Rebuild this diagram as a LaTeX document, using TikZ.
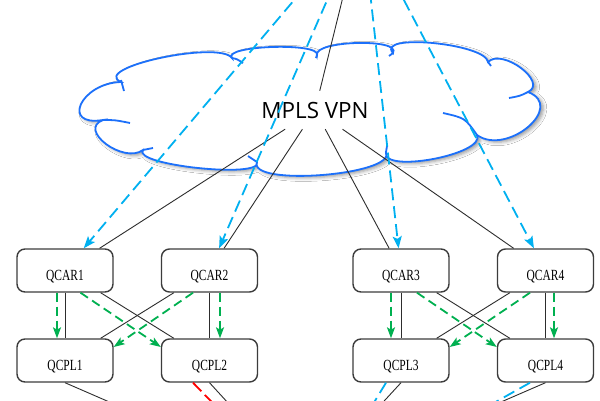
\documentclass[tikz,border=0pt]{standalone}
\usepackage{fontspec}
\newfontfamily\labfont[FakeStretch=0.74]{Liberation Serif}
\newfontfamily\mplsfont{Open Sans}
\usetikzlibrary{arrows.meta,calc,shadows.blur}
\definecolor{cloudblue}{RGB}{28,112,250}
\definecolor{dashblue}{RGB}{0,176,240}
\definecolor{dgreen}{RGB}{0,176,80}
\definecolor{dred}{RGB}{255,0,0}
\definecolor{boxgray}{RGB}{60,60,60}
\definecolor{linegray}{RGB}{45,45,45}
\begin{document}
\begin{tikzpicture}[x=1pt,y=-1pt,
  box/.style={draw=boxgray, line width=1.4, rounded corners=8, fill=white,
    minimum width=96, minimum height=43, inner sep=0, text height=19pt, text depth=0pt,
    font=\labfont\fontsize{15.5}{18}\selectfont},
  blk/.style={draw=linegray, line width=0.9},
  bluedash/.style={draw=dashblue, line width=1.8, dash pattern=on 12pt off 6pt,
    -{Stealth[length=12pt,width=9pt,inset=2.5pt]}},
  greendash/.style={draw=dgreen, line width=1.8, dash pattern=on 9pt off 5pt,
    -{Stealth[length=11pt,width=8pt,inset=2.5pt]}},
  bluebot/.style={draw=dashblue, line width=1.8, dash pattern=on 12pt off 6pt},
  redbot/.style={draw=dred, line width=1.8, dash pattern=on 12pt off 5pt},
  curl/.style={draw=cloudblue, line width=1.8}]
\useasboundingbox (0,0) rectangle (600,400);
\clip (0,0) rectangle (600,400);
\fill[white] (0,0) rectangle (600,400);
% cloud
\path[draw=cloudblue, line width=1.8, fill=white,
  blur shadow={shadow xshift=3pt, shadow yshift=-2pt, shadow blur radius=3.5pt, shadow opacity=40}]
 (121,82) .. controls (81.1,83.0) and (60.3,127.0) .. (103,120)
 .. controls (77.1,129.6) and (123.5,164.4) .. (143,150)
 .. controls (131.2,165) and (263.4,179) .. (257,162)
 .. controls (247.4,186.8) and (397,175.2) .. (386,152)
 .. controls (380.7,174.1) and (486.3,154.3) .. (477,135)
 .. controls (506.9,156.4) and (566.1,106.6) .. (528,92)
 .. controls (548.5,82.4) and (502.1,47.6) .. (488,62)
 .. controls (485.6,43.4) and (375.4,33) .. (393,53)
 .. controls (401.8,38.1) and (313.6,40.5) .. (317,55)
 .. controls (320.5,42.1) and (221.9,45.5) .. (232,58)
 .. controls (218.9,40.1) and (90.1,67.9) .. (121,82) -- cycle;
\path[curl] (121,80) .. controls (122,86) .. (124,91);
\path[curl] (103,120) .. controls (115,120) .. (130,123);
\path[curl] (143,150) .. controls (148,149) .. (153,148);
\path[curl] (257,162) .. controls (253,159) .. (248,156);
\path[curl] (386,152) .. controls (387,149) .. (387,146);
\path[curl] (477,135) .. controls (465,118) .. (443,113);
\path[curl] (528,92) .. controls (520,96) .. (509,98);
\path[curl] (488,62) .. controls (489,64) .. (491,66);
\path[curl] (393,53) .. controls (391,54) .. (389,56);
\path[curl] (317,55) .. controls (317,56) .. (316,58);
\path[curl] (232,58) .. controls (237,59) .. (243,63);
% nodes
\node[font=\mplsfont\fontsize{22.4}{26}\selectfont, minimum height=38, minimum width=110, inner sep=0] (mpls) at (315,110) {MPLS VPN};
\coordinate (top) at (362,-80);
\coordinate (bot) at (305,487);
\coordinate (bot2) at (312,505);
\node[box] (qcar1) at (65,270.5) {QCAR1};
\node[box] (qcar2) at (209.5,270.5) {QCAR2};
\node[box] (qcar3) at (401,270.5) {QCAR3};
\node[box] (qcar4) at (545.5,270.5) {QCAR4};
\node[box] (qcpl1) at (65,360.5) {QCPL1};
\node[box] (qcpl2) at (209.5,360.5) {QCPL2};
\node[box] (qcpl3) at (401,360.5) {QCPL3};
\node[box] (qcpl4) at (545.5,360.5) {QCPL4};
% black links
\draw[blk] (top) -- (mpls);
\foreach \n in {qcar1,qcar2,qcar3,qcar4} \draw[blk] (mpls) -- (\n);
\draw[blk] (qcar1) -- (qcpl1);
\draw[blk] (qcar2) -- (qcpl2);
\draw[blk] (qcar3) -- (qcpl3);
\draw[blk] (qcar4) -- (qcpl4);
\draw[blk] (qcar1) -- (qcpl2);
\draw[blk] (qcar2) -- (qcpl1);
\draw[blk] (qcar3) -- (qcpl4);
\draw[blk] (qcar4) -- (qcpl3);
\foreach \n in {qcpl1,qcpl2,qcpl3,qcpl4} \draw[blk] (\n.south) -- (bot);
% blue dashed arrows from above
\foreach \n in {qcar1,qcar2,qcar3,qcar4} \draw[bluedash] (top) -- (\n);
% green dashed arrows
\draw[greendash] ($(qcar1.south)+(-8,0)$) -- ($(qcpl1.north)+(-8,0)$);
\draw[greendash] ($(qcar2.south)+(10.5,0)$) -- ($(qcpl2.north)+(10.5,0)$);
\draw[greendash] ($(qcar3.south)+(-10,0)$) -- ($(qcpl3.north)+(-10,0)$);
\draw[greendash] ($(qcar4.south)+(8.5,0)$) -- ($(qcpl4.north)+(8.5,0)$);
\draw[greendash] ($(qcar1.south)+(15.5,0)$) -- ($(qcpl2.west)+(0,-13.5)$);
\draw[greendash] ($(qcar2.south)+(-16.5,0)$) -- ($(qcpl1.east)+(0,-13.5)$);
\draw[greendash] ($(qcar3.south)+(16,0)$) -- ($(qcpl4.west)+(0,-13.5)$);
\draw[greendash] ($(qcar4.south)+(-15.5,0)$) -- ($(qcpl3.east)+(0,-13.5)$);
% bottom dashed links
\draw[redbot] ($(qcpl2.south)+(-16.5,0)$) -- (bot2);
\draw[bluebot] ($(qcpl3.south)+(-15,0)$) -- (bot2);
\draw[bluebot] ($(qcpl4.south)+(-15.5,0)$) -- (bot2);
\end{tikzpicture}
\end{document}
